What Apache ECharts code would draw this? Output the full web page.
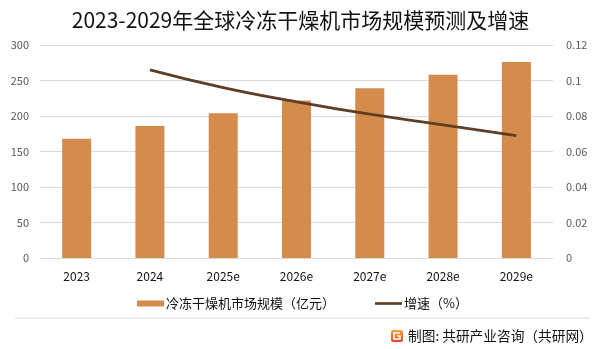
<!DOCTYPE html>
<html><head><meta charset="utf-8">
<script src="https://cdn.jsdelivr.net/npm/echarts@6/dist/echarts.min.js"></script>
<style>html,body{margin:0;padding:0;background:#fff}#c{width:601px;height:349px}</style>
</head><body><div id="c"></div>
<script>
const categories = ['2023','2024','2025e','2026e','2027e','2028e','2029e'];
const marketSize = [168, 186, 204, 222, 239, 258, 276];
const growthRate = [null, 0.106, 0.096, 0.088, 0.081, 0.075, 0.069];
const leftTicks = [0, 300, 50];
const rightTicks = [0, 0.12, 0.02];

const chart = echarts.init(document.getElementById('c'), null, {renderer:'canvas'});
const font = '"Microsoft YaHei","Noto Sans CJK SC",sans-serif';
chart.setOption({
  backgroundColor:'#fff',
  animation:false,
  title:{text:'2023-2029年全球冷冻干燥机市场规模预测及增速',left:'center',top:5,
    textStyle:{fontSize:21,fontWeight:'normal',color:'#111',fontFamily:font}},
  legend:{top:292,left:132,itemGap:40,itemWidth:27,itemHeight:6,
    textStyle:{fontSize:13,color:'#111',fontFamily:font,padding:[0,0,0,-3]},
    data:[{name:'冷冻干燥机市场规模（亿元）',icon:'rect'},{name:'增速（%）',icon:'path://M0,0 L30,0 L30,3 L0,3 Z'}]},
  grid:{left:40,right:48,top:45,bottom:91},
  xAxis:{type:'category',data:categories,
    axisLine:{lineStyle:{color:'#d9d9d9'}},axisTick:{show:false},
    axisLabel:{color:'#111',fontSize:12,margin:12,fontFamily:font}},
  yAxis:[
    {type:'value',min:leftTicks[0],max:leftTicks[1],interval:leftTicks[2],
     axisLine:{show:false},axisTick:{show:false},
     splitLine:{lineStyle:{color:'#d9d9d9'}},
     axisLabel:{color:'#595959',fontSize:11,margin:11,fontFamily:font}},
    {type:'value',min:rightTicks[0],max:rightTicks[1],interval:rightTicks[2],
     axisLine:{show:false},axisTick:{show:false},splitLine:{show:false},
     axisLabel:{color:'#595959',fontSize:11,margin:13,fontFamily:font,
       formatter:v=>String(+v.toFixed(2))}}
  ],
  series:[
    {name:'冷冻干燥机市场规模（亿元）',type:'bar',data:marketSize,barWidth:29,
     itemStyle:{color:'#D48B4C'}},
    {name:'增速（%）',type:'line',yAxisIndex:1,data:growthRate,smooth:true,
     symbol:'none',lineStyle:{color:'#5E3F24',width:2.8},itemStyle:{color:'#5E3F24'}}
  ],
  graphic:[
    {type:'line',shape:{x1:15,y1:318,x2:590,y2:318},style:{stroke:'#d9d9d9',lineWidth:1}},
    {type:'rect',shape:{x:391,y:330,width:12,height:12,r:2},
     style:{fill:new echarts.graphic.LinearGradient(0,0,0,1,[{offset:0,color:'#F9A23B'},{offset:1,color:'#E5472B'}])}},
    {type:'polyline',shape:{points:[[400,333],[394,333],[394,339],[400,339],[400,336],[397,336]]},
     style:{stroke:'#fff',lineWidth:1.6,fill:null}},
    {type:'text',x:408,y:336,style:{text:'制图: 共研产业咨询（共研网）',
     font:'13.7px '+font,fill:'#111',textVerticalAlign:'middle'}}
  ]
});
</script></body></html>
